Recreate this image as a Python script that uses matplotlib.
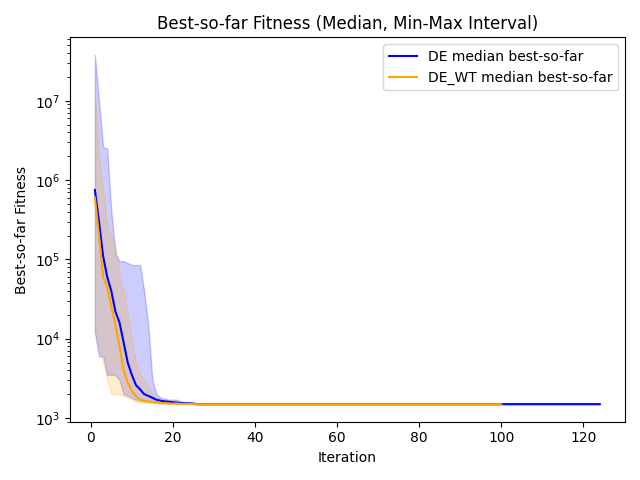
import numpy as np
import matplotlib.pyplot as plt

# head values (iterations 1..25)
de_med_head = [7.5e5, 3e5, 1.1e5, 6e4, 4e4, 2.2e4, 1.6e4, 9e3, 5e3, 3.5e3, 2.6e3, 2.3e3, 2e3, 1.9e3,
               1.8e3, 1.7e3, 1.65e3, 1.62e3, 1.6e3, 1.58e3, 1.56e3, 1.55e3, 1.54e3, 1.53e3, 1.52e3]
de_max_head = [3.8e7, 1e7, 2.6e6, 2.5e6, 4e5, 1.2e5, 9.5e4, 9.5e4, 9e4, 8.5e4, 8.5e4, 8.5e4, 4e4, 1.5e4,
               3e3, 2e3, 1.8e3, 1.75e3, 1.7e3, 1.7e3, 1.7e3, 1.6e3, 1.58e3, 1.56e3, 1.55e3]
de_min_head = [1.2e4, 6e3, 6e3, 3.5e3, 3.5e3, 3.5e3, 3e3, 2e3, 1.9e3, 1.8e3, 1.7e3, 1.65e3, 1.62e3, 1.6e3,
               1.58e3, 1.56e3, 1.55e3, 1.54e3, 1.53e3, 1.52e3, 1.52e3, 1.51e3, 1.51e3, 1.51e3, 1.5e3]
wt_med_head = [6e5, 2e5, 6e4, 4.5e4, 2.5e4, 1.5e4, 8e3, 4e3, 2.8e3, 2.2e3, 1.9e3, 1.7e3, 1.65e3, 1.62e3,
               1.6e3, 1.57e3, 1.55e3, 1.54e3, 1.53e3, 1.52e3, 1.52e3, 1.51e3, 1.51e3, 1.5e3, 1.5e3]
wt_max_head = [1.3e7, 2e6, 8e5, 2.5e5, 2e5, 1.5e5, 6e4, 4e4, 2e4, 1e4, 5e3, 3.5e3, 3e3, 2.5e3,
               2e3, 1.8e3, 1.7e3, 1.65e3, 1.6e3, 1.58e3, 1.56e3, 1.55e3, 1.54e3, 1.53e3, 1.52e3]
wt_min_head = [1.2e4, 8e3, 5e3, 3e3, 2e3, 2e3, 2e3, 1.9e3, 1.8e3, 1.7e3, 1.6e3, 1.57e3, 1.55e3, 1.54e3,
               1.53e3, 1.52e3, 1.52e3, 1.51e3, 1.51e3, 1.5e3, 1.5e3, 1.5e3, 1.5e3, 1.5e3, 1.5e3]

de_tail = 1495.0   # flat value after iteration 25
wt_tail = 1490.0
de_n = 124
wt_n = 100

def extend(head, tail, n):
    return np.array(head + [tail] * (n - len(head)))

de_it = np.arange(1, de_n + 1)
wt_it = np.arange(1, wt_n + 1)
de_med = extend(de_med_head, de_tail, de_n)
de_max = extend(de_max_head, de_tail, de_n)
de_min = extend(de_min_head, de_tail, de_n)
wt_med = extend(wt_med_head, wt_tail, wt_n)
wt_max = extend(wt_max_head, wt_tail, wt_n)
wt_min = extend(wt_min_head, wt_tail, wt_n)

fig, ax = plt.subplots(figsize=(6.4, 4.8), dpi=100)
ax.fill_between(de_it, de_min, de_max, color='blue', alpha=0.2)
ax.plot(de_it, de_med, color='blue', label='DE median best-so-far')
ax.fill_between(wt_it, wt_min, wt_max, color='orange', alpha=0.2)
ax.plot(wt_it, wt_med, color='orange', label='DE_WT median best-so-far')
ax.set_yscale('log')
ax.set_xlabel('Iteration')
ax.set_ylabel('Best-so-far Fitness')
ax.set_title('Best-so-far Fitness (Median, Min-Max Interval)')
ax.legend()
plt.tight_layout()
plt.savefig('out.png')
